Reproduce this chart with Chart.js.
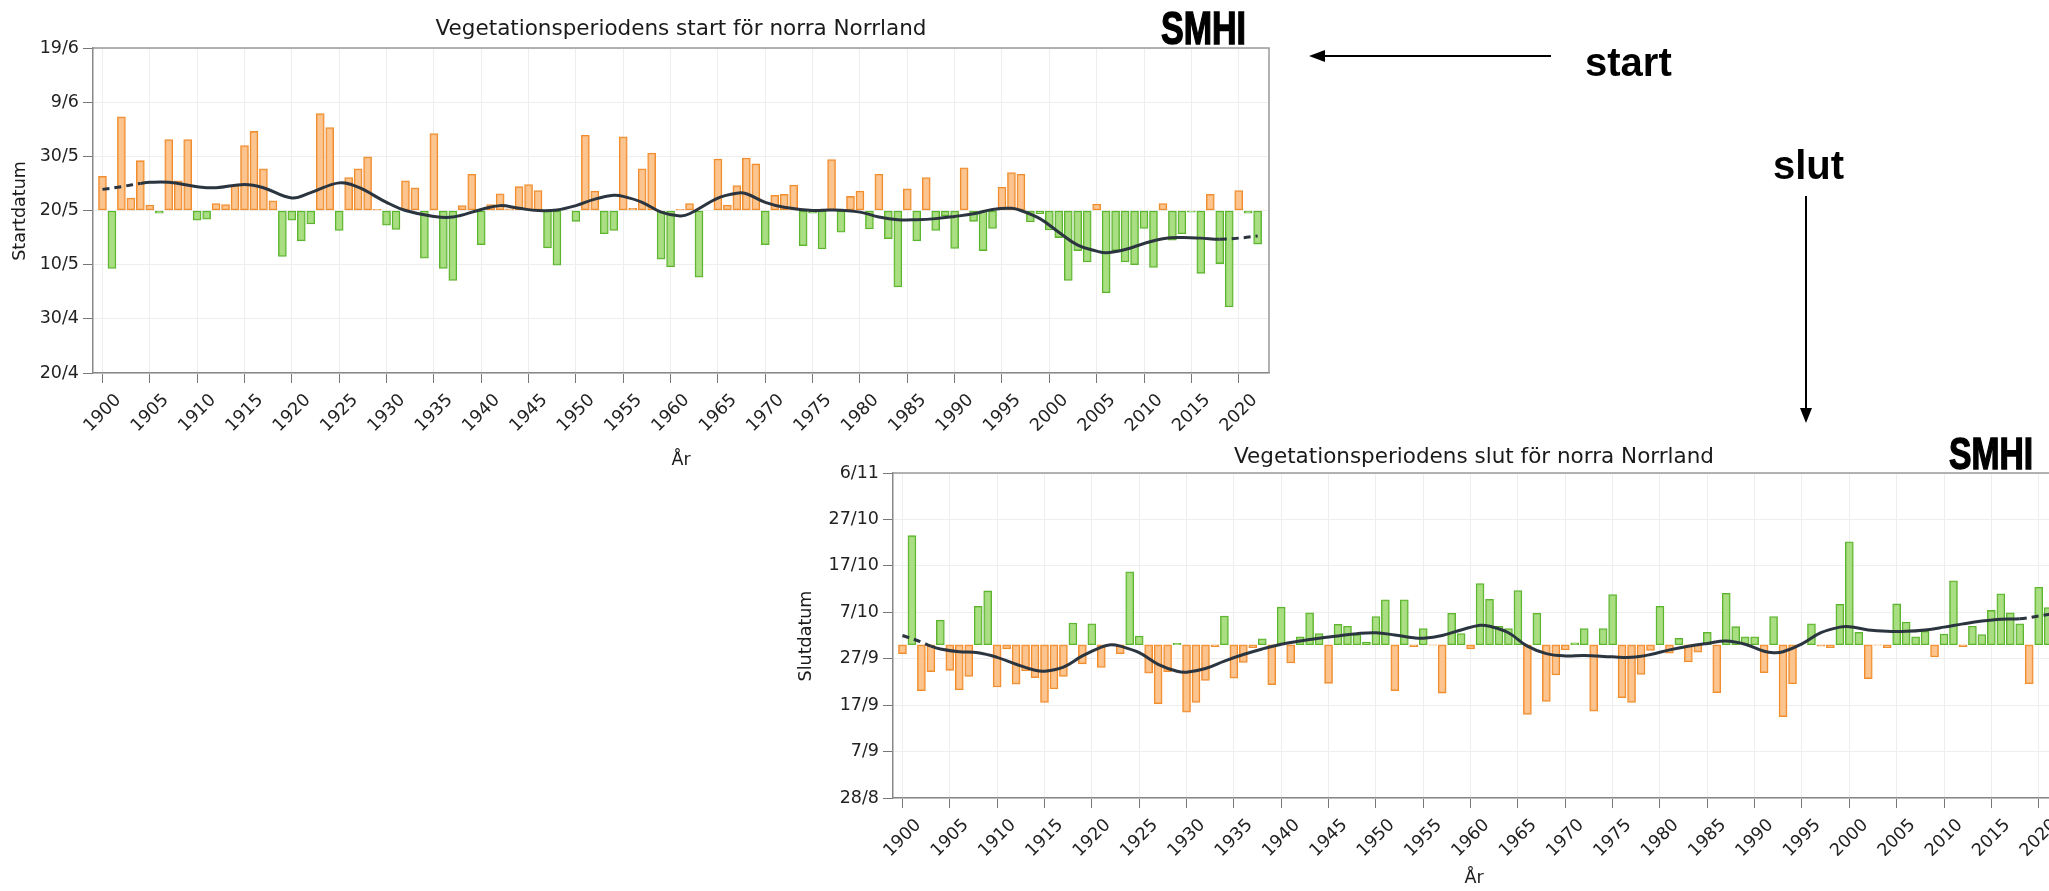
<!DOCTYPE html>
<html>
<head>
<meta charset="utf-8">
<script src="https://cdn.jsdelivr.net/npm/chart.js@4.4.1/dist/chart.umd.min.js"></script>
<style>
  html, body { margin:0; padding:0; background:#fff; }
  body { width:2049px; height:891px; overflow:hidden; position:relative; }
  #wrapTop { position:absolute; left:0; top:0; }
  #wrapBot { position:absolute; left:780px; top:420px; }
  #overlay { position:absolute; left:0; top:0; pointer-events:none; }
</style>
</head>
<body>
<div id="wrapTop"><canvas id="cTop" width="1300" height="470"></canvas></div>
<div id="wrapBot"><canvas id="cBot" width="1300" height="471"></canvas></div>
<svg id="overlay" width="2049" height="891" xmlns="http://www.w3.org/2000/svg">
  <text x="1161" y="44" font-family="Liberation Sans, Arial, sans-serif" font-weight="bold" font-size="47" textLength="85" lengthAdjust="spacingAndGlyphs" fill="#000" stroke="#000" stroke-width="1.5">SMHI</text>
  <text x="1949" y="469" font-family="Liberation Sans, Arial, sans-serif" font-weight="bold" font-size="45" textLength="84" lengthAdjust="spacingAndGlyphs" fill="#000" stroke="#000" stroke-width="1.5">SMHI</text>
  <line x1="1551" y1="56" x2="1322" y2="56" stroke="#000" stroke-width="2"/>
  <polygon points="1309,56 1325,50 1325,62" fill="#000"/>
  <text x="1585" y="76" font-family="Liberation Sans, Arial, sans-serif" font-weight="bold" font-size="40" fill="#000">start</text>
  <text x="1773" y="179" font-family="Liberation Sans, Arial, sans-serif" font-weight="bold" font-size="40" fill="#000">slut</text>
  <line x1="1806" y1="196" x2="1806" y2="410" stroke="#000" stroke-width="2"/>
  <polygon points="1806,423 1800,408 1812,408" fill="#000"/>
</svg>
<script>
// ---------- data ----------
const years = [
  1900,1901,1902,1903,1904,1905,1906,1907,1908,1909,
  1910,1911,1912,1913,1914,1915,1916,1917,1918,1919,
  1920,1921,1922,1923,1924,1925,1926,1927,1928,1929,
  1930,1931,1932,1933,1934,1935,1936,1937,1938,1939,
  1940,1941,1942,1943,1944,1945,1946,1947,1948,1949,
  1950,1951,1952,1953,1954,1955,1956,1957,1958,1959,
  1960,1961,1962,1963,1964,1965,1966,1967,1968,1969,
  1970,1971,1972,1973,1974,1975,1976,1977,1978,1979,
  1980,1981,1982,1983,1984,1985,1986,1987,1988,1989,
  1990,1991,1992,1993,1994,1995,1996,1997,1998,1999,
  2000,2001,2002,2003,2004,2005,2006,2007,2008,2009,
  2010,2011,2012,2013,2014,2015,2016,2017,2018,2019,
  2020,2021,2022
];

// start of vegetation period: days relative to 20/5 (day 140)
const startBase = 140;
const startAnomaly = [
  6.3,-10.7,17.3,2.3,9.2,1.0,-0.5,13.1,5.5,13.1,
  -1.8,-1.6,1.3,1.1,4.6,12.0,14.6,7.7,1.8,-8.5,
  -1.8,-5.6,-2.5,17.9,15.3,-3.7,6.1,7.7,9.9,0.2,
  -2.7,-3.5,5.5,4.2,-8.8,14.2,-10.7,-12.9,0.9,6.7,
  -6.3,1.1,3.1,0.3,4.4,4.8,3.7,-6.9,-10.1,0,
  -2.0,13.9,3.6,-4.3,-3.7,13.6,0.4,7.7,10.6,-9.0,
  -10.4,0.2,1.3,-12.3,0,9.5,1.0,4.6,9.7,8.6,
  -6.3,2.8,3.0,4.7,-6.5,-0.5,-7.1,9.4,-4.0,2.6,
  3.6,-3.4,6.7,-5.2,-14.1,4.0,-5.6,6.1,-3.7,-1.0,
  -7.0,7.9,-2.0,-7.4,-3.3,4.3,7.0,6.7,-2.1,-0.6,
  -3.6,-5.0,-12.9,-7.4,-9.5,1.2,-15.2,-7.4,-9.5,-10.0,
  -3.3,-10.5,1.3,-5.5,-4.3,-0.3,-11.6,3.0,-9.8,-17.8,
  3.7,-0.5,-6.2
];
const startCurveYears = [1900,1902,1904,1905,1907,1910,1912,1915,1917,1920,1922,1925,1927,1930,1932,1935,1937,1940,1942,1944,1946,1948,1950,1952,1954,1955,1957,1959,1961,1962,1965,1967,1968,1970,1972,1975,1977,1980,1982,1984,1986,1988,1990,1992,1994,1996,1997,1999,2001,2003,2005,2006,2008,2010,2012,2014,2016,2018,2020,2022];
const startCurveValues = [3.9,4.4,5.0,5.2,5.2,4.4,4.2,4.8,4.2,2.3,3.3,5.1,4.3,1.5,0.0,-1.1,-1.2,0.2,0.9,0.4,0.0,0.1,0.9,2.1,2.8,2.6,1.5,-0.3,-1.0,-0.6,2.3,3.2,3.1,1.5,0.6,0.0,0.1,-0.3,-1.2,-1.7,-1.7,-1.5,-1.1,-0.6,0.2,0.4,0.0,-1.5,-4.0,-6.4,-7.5,-7.8,-7.2,-6.1,-5.2,-5.0,-5.1,-5.3,-5.1,-4.7];

// end of vegetation period: days relative to 30/9 (day 273)
const endBase = 273;
const endAnomaly = [
  -1.9,23.5,-9.9,-5.8,5.3,-5.5,-9.7,-6.8,8.3,11.6,
  -9.1,-0.9,-8.5,-5.6,-7.1,-12.4,-9.5,-6.8,4.7,-4.1,
  4.5,-4.9,0,-1.9,15.7,1.9,-6.1,-12.7,-5.8,0.3,
  -14.5,-12.4,-7.7,-0.4,6.2,-7.2,-3.8,-0.6,1.3,-8.6,
  8.1,-3.9,1.7,6.9,2.4,-8.3,4.4,4.0,2.2,0.6,
  6.1,9.7,-9.9,9.7,-0.4,3.5,-0.1,-10.4,6.8,2.4,
  -0.9,13.2,9.8,4.0,3.5,11.7,-15.0,6.8,-12.2,-6.5,
  -1.1,0.4,3.5,-14.3,3.5,10.8,-11.4,-12.4,-6.4,-1.2,
  8.3,-1.8,1.4,-3.7,-1.6,2.7,-10.3,11.1,3.9,1.7,
  1.7,-6.0,6.1,-15.5,-8.4,0,4.5,-0.3,-0.6,8.7,
  22.2,2.7,-7.3,-0.1,-0.6,8.8,4.9,1.7,2.9,-2.6,
  2.3,13.8,-0.4,4.0,2.2,7.4,11.0,6.9,4.5,-8.4,
  12.4,8.0,10.1
];
const endCurveYears = [1900,1902,1903,1904,1906,1908,1910,1912,1914,1915,1917,1919,1921,1922,1923,1925,1927,1929,1930,1932,1934,1936,1938,1940,1942,1944,1946,1948,1950,1952,1954,1955,1957,1959,1961,1962,1964,1966,1968,1970,1972,1975,1977,1979,1981,1983,1985,1987,1989,1991,1992,1993,1995,1997,1999,2000,2002,2004,2006,2008,2010,2012,2014,2016,2018,2020,2022];
const endCurveValues = [2.0,0.6,-0.3,-0.9,-1.5,-1.7,-2.7,-4.2,-5.5,-5.7,-4.8,-2.4,-0.5,0.0,-0.3,-1.7,-4.2,-5.7,-5.9,-5.1,-3.5,-2.1,-0.9,0.1,0.8,1.4,1.9,2.4,2.6,2.1,1.5,1.4,2.0,3.2,4.2,4.0,2.6,-0.3,-1.9,-2.4,-2.3,-2.6,-2.7,-2.1,-1.1,-0.3,0.3,0.8,0.1,-1.4,-1.7,-1.5,0.2,2.6,3.8,3.9,3.2,2.9,2.9,3.2,3.8,4.5,5.1,5.5,5.6,6.2,6.9];

// ticks
const xTickYears  = [1900,1905,1910,1915,1920,1925,1930,1935,1940,1945,1950,1955,1960,1965,1970,1975,1980,1985,1990,1995,2000,2005,2010,2015,2020];
const xTickLabels = ['1900','1905','1910','1915','1920','1925','1930','1935','1940','1945','1950','1955','1960','1965','1970','1975','1980','1985','1990','1995','2000','2005','2010','2015','2020'];
const startTickValues = [110,120,130,140,150,160,170];
const startTickLabels = ['20/4','30/4','10/5','20/5','30/5','9/6','19/6'];
const endTickValues = [240,250,260,270,280,290,300,310];
const endTickLabels = ['28/8','7/9','17/9','27/9','7/10','17/10','27/10','6/11'];

// ---------- drawing ----------
const ORANGE_FILL = 'rgba(252,186,122,0.85)';
const ORANGE_LINE = '#f08d2e';
const GREEN_FILL  = 'rgba(160,218,118,0.9)';
const GREEN_LINE  = '#5db42f';
const CURVE = '#2b3540';

Chart.defaults.font.family = 'DejaVu Sans';
Chart.defaults.color = '#222';

const decor = {
  id: 'decor',
  afterDraw(chart, args, o) {
    const ctx = chart.ctx, a = chart.chartArea;
    ctx.save();
    ctx.strokeStyle = '#999';
    ctx.lineWidth = 1.5;
    ctx.beginPath();
    ctx.moveTo(a.left, a.top);
    ctx.lineTo(a.right, a.top);
    ctx.lineTo(a.right, a.bottom);
    ctx.stroke();
    ctx.fillStyle = '#1a1a1a';
    ctx.textAlign = 'center';
    ctx.textBaseline = 'middle';
    ctx.font = '21.5px "DejaVu Sans"';
    ctx.fillText(o.title, o.titleX, o.titleY);
    ctx.font = '17.5px "DejaVu Sans"';
    ctx.fillText(o.xTitle, o.xTitleX, o.xTitleY);
    ctx.translate(o.yTitleX, o.yTitleY);
    ctx.rotate(-Math.PI / 2);
    ctx.fillText(o.yTitle, 0, 0);
    ctx.restore();
  }
};

function makeChart(id, c) {
  const isLate = (v) => v > c.base;
  return new Chart(document.getElementById(id), {
    type: 'bar',
    plugins: [decor],
    data: {
      datasets: [
        {
          type: 'line',
          data: c.curveX.map((x, i) => ({ x: x, y: c.base + c.curveY[i] })),
          borderColor: CURVE,
          borderWidth: 3,
          pointRadius: 0,
          tension: 0.4,
          fill: false,
          order: 0,
          segment: {
            borderDash: (s) => (s.p1.parsed.x <= c.dashBefore || s.p0.parsed.x >= c.dashAfter) ? [7, 5] : undefined
          }
        },
        {
          type: 'bar',
          data: years.map((x, i) => ({ x: x, y: c.base + c.anom[i] })),
          base: c.base,
          barThickness: 8,
          borderWidth: 1.3,
          borderSkipped: false,
          order: 1,
          backgroundColor: (s) => (s.raw && (isLate(s.raw.y) === c.lateOrange)) ? ORANGE_FILL : GREEN_FILL,
          borderColor: (s) => (s.raw && (isLate(s.raw.y) === c.lateOrange)) ? ORANGE_LINE : GREEN_LINE
        }
      ]
    },
    options: {
      responsive: false,
      animation: false,
      layout: { padding: { top: c.padTop, right: c.padRight, left: 0, bottom: 0 } },
      plugins: {
        legend: { display: false },
        tooltip: { enabled: false },
        decor: c.decor
      },
      scales: {
        x: {
          type: 'linear',
          offset: false,
          min: 1899,
          max: 2023.2,
          afterBuildTicks: (s) => { s.ticks = xTickYears.map(v => ({ value: v })); },
          afterFit: (s) => { s.height = c.xAxisH; s.paddingLeft = 0; s.paddingRight = 0; },
          ticks: {
            autoSkip: false,
            minRotation: 45,
            maxRotation: 45,
            labelOffset: 16,
            padding: 7,
            color: '#222',
            font: { family: 'DejaVu Sans', size: 17.5 },
            callback: (v) => xTickLabels[xTickYears.indexOf(v)]
          },
          grid: { offset: false, color: '#eeeeee', lineWidth: 1, tickColor: '#777', tickLength: 10 },
          border: { color: '#888', width: 1.5 }
        },
        y: {
          type: 'linear',
          min: c.yTicks[0],
          max: c.yTicks[c.yTicks.length - 1],
          afterBuildTicks: (s) => { s.ticks = c.yTicks.map(v => ({ value: v })); },
          afterFit: (s) => { s.width = c.yAxisW; },
          ticks: {
            padding: 4,
            color: '#222',
            font: { family: 'DejaVu Sans', size: 17.5 },
            callback: (v) => c.yLabels[c.yTicks.indexOf(v)]
          },
          grid: { color: '#eeeeee', lineWidth: 1, tickColor: '#777', tickLength: 10 },
          border: { color: '#888', width: 1.5 }
        }
      }
    }
  });
}

makeChart('cTop', {
  base: startBase, anom: startAnomaly,
  curveX: startCurveYears, curveY: startCurveValues,
  dashBefore: 1904, dashAfter: 2018,
  lateOrange: true,
  yTicks: startTickValues, yLabels: startTickLabels,
  padTop: 48, padRight: 31, xAxisH: 97, yAxisW: 93,
  decor: { title: 'Vegetationsperiodens start för norra Norrland', titleX: 681, titleY: 29,
           xTitle: 'År', xTitleX: 681, xTitleY: 460,
           yTitle: 'Startdatum', yTitleX: 20, yTitleY: 211 }
});

makeChart('cBot', {
  base: endBase, anom: endAnomaly,
  curveX: endCurveYears, curveY: endCurveValues,
  dashBefore: 1903, dashAfter: 2018,
  lateOrange: false,
  yTicks: endTickValues, yLabels: endTickLabels,
  padTop: 53, padRight: 11, xAxisH: 93, yAxisW: 113,
  decor: { title: 'Vegetationsperiodens slut för norra Norrland', titleX: 694, titleY: 37,
           xTitle: 'År', xTitleX: 694, xTitleY: 458,
           yTitle: 'Slutdatum', yTitleX: 26, yTitleY: 216 }
});
</script>
</body>
</html>
